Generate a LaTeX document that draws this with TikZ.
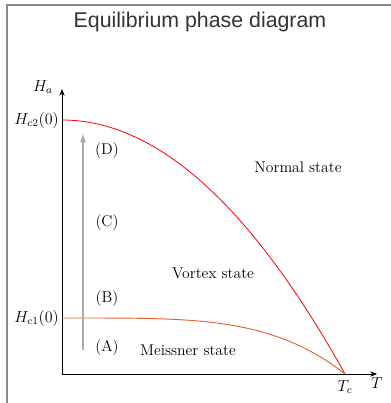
\documentclass[tikz,border=0pt]{standalone}
\usepackage{fontspec}
\newfontfamily\titlefont{Liberation Sans}
\usetikzlibrary{arrows.meta}
\definecolor{framegray}{HTML}{8A8A8A}
\definecolor{titlegray}{HTML}{333333}
\definecolor{hcone}{HTML}{E0622C}
\definecolor{arrowgray}{HTML}{AAAAAA}
\tikzset{
  lbl/.style={font=\fontsize{11.7}{14}\selectfont, inner sep=0pt},
  axis/.style={line width=0.6pt, -{Stealth[length=5pt,width=4pt]}},
}
\begin{document}
\begin{tikzpicture}[x=0.75pt,y=-0.75pt]
\useasboundingbox (0,0) rectangle (390,403);
% frame
\draw[framegray, line width=1.5pt] (7,410) -- (7,5.5) -- (395,5.5);
% title
\node[inner sep=0pt, text=titlegray, font=\titlefont\fontsize{16}{19}\selectfont] (title) at (200,22) {Equilibrium phase diagram};
% axes
\coordinate (O) at (62,374);
\coordinate (Xend) at (377,374);
\coordinate (Yend) at (62,89);
\draw[axis] (O) -- (Xend);
\draw[axis] (O) -- (Yend);
\coordinate (Hc2) at (62,120);
\coordinate (Hc1) at (62,318);
\coordinate (Tc) at (345,374);
% curves
\draw[red, line width=0.6pt] plot[domain=0:1, samples=80] ({62+283*\x},{374-254*(1-\x*\x)});
\draw[hcone, line width=0.7pt] plot[domain=0:1, samples=80] ({62+283*\x},{374-56*(1-\x*\x*\x*\x)});
% gray arrow
\coordinate (Ga) at (83,350);
\coordinate (Gb) at (83,133);
\draw[arrowgray, line width=0.9pt, -{Latex[length=7pt,width=4.5pt]}] (Ga) -- (Gb);
% labels
\node[lbl, anchor=east] (lHa) at (53,87) {$H_a$};
\node[lbl, anchor=east] (lHc2) at (59,120) {$H_{c2}(0)$};
\node[lbl, anchor=east] (lHc1) at (59,318) {$H_{c1}(0)$};
\node[lbl] (lTc) at (345,387) {$T_c$};
\node[lbl] (lT) at (377,383) {$T$};
\node[lbl] (lD) at (107,151) {(D)};
\node[lbl] (lC) at (107,223) {(C)};
\node[lbl] (lB) at (107,299) {(B)};
\node[lbl] (lA) at (107,348) {(A)};
\node[lbl] (normal) at (298,167) {Normal state};
\node[lbl] (vortex) at (213,273) {Vortex state};
\node[lbl] (meissner) at (188,350) {Meissner state};
\end{tikzpicture}
\end{document}
